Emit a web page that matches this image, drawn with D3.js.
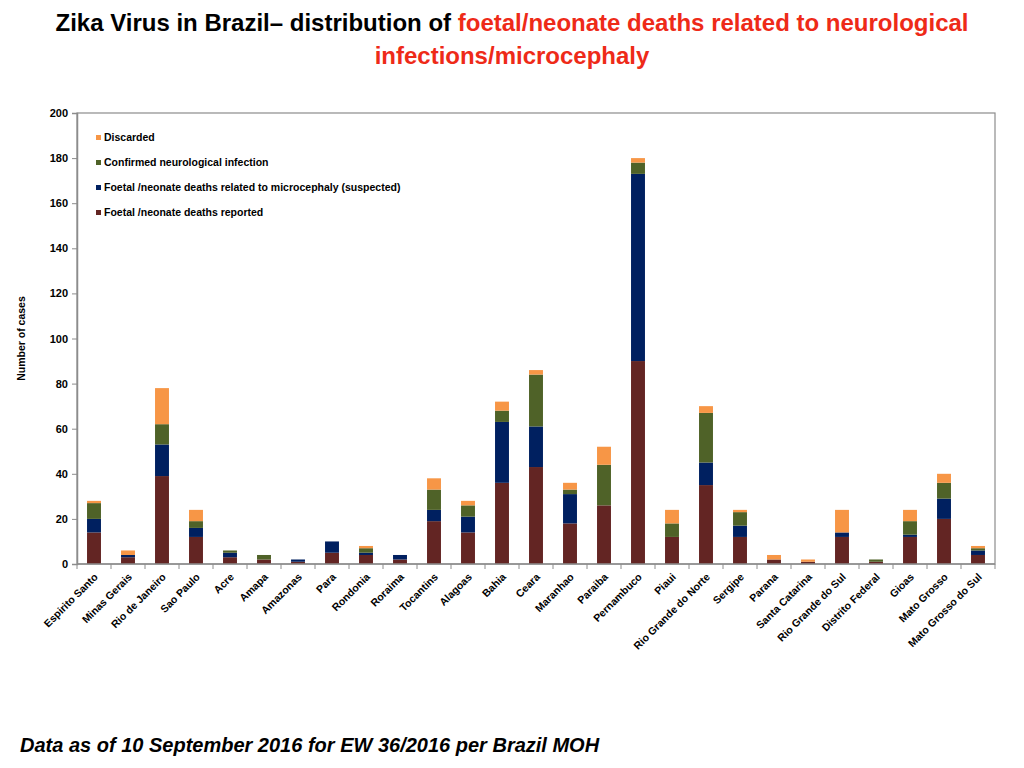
<!DOCTYPE html>
<html>
<head>
<meta charset="utf-8">
<script src="https://cdn.jsdelivr.net/npm/d3@7"></script>
<style>
  body { margin: 0; background: #fff; }
  svg { font-family: "Liberation Sans", Arial, sans-serif; }
</style>
</head>
<body>
<svg id="chart" width="1024" height="768"></svg>
<script>
var states = ["Espirito Santo", "Minas Gerais", "Rio de Janeiro", "Sao Paulo", "Acre", "Amapa",
  "Amazonas", "Para", "Rondonia", "Roraima", "Tocantins", "Alagoas", "Bahia", "Ceara",
  "Maranhao", "Paraiba", "Pernambuco", "Piaui", "Rio Grande do Norte", "Sergipe", "Parana",
  "Santa Catarina", "Rio Grande do Sul", "Distrito Federal", "Gioas", "Mato Grosso",
  "Mato Grosso do Sul"];

var reported  = [14, 3, 39, 12, 3, 2, 1, 5, 4, 2, 19, 14, 36, 43, 18, 26, 90, 12, 35, 12, 2, 1, 12, 1, 12, 20, 4];
var suspected = [6, 1, 14, 4, 2, 0, 1, 5, 1, 2, 5, 7, 27, 18, 13, 0, 83, 0, 10, 5, 0, 0, 2, 0, 1, 9, 2];
var confirmed = [7, 0, 9, 3, 1, 2, 0, 0, 2, 0, 9, 5, 5, 23, 2, 18, 5, 6, 22, 6, 0, 0, 0, 1, 6, 7, 1];
var discarded = [1, 2, 16, 5, 0, 0, 0, 0, 1, 0, 5, 2, 4, 2, 3, 8, 2, 6, 3, 1, 2, 1, 10, 0, 5, 4, 1];

var seriesNames = ["Foetal /neonate deaths reported",
  "Foetal /neonate deaths related to microcephaly (suspected)",
  "Confirmed neurological  infection",
  "Discarded"];
var seriesColors = ["#632523", "#002060", "#4f6228", "#f79646"];
var yTicks = [0, 20, 40, 60, 80, 100, 120, 140, 160, 180, 200];

var svg = d3.select("#chart");
var margin = {top: 113, right: 29, bottom: 204, left: 77};
var width = 1024 - margin.left - margin.right,
    height = 768 - margin.top - margin.bottom;

// title
var title = svg.append("text")
  .attr("x", 512).attr("y", 31)
  .attr("text-anchor", "middle")
  .style("font-size", "24px").style("font-weight", "bold");
title.append("tspan").attr("fill", "#000").text("Zika Virus in Brazil\u2013  distribution of ");
title.append("tspan").attr("fill", "#ee2a18").text("foetal/neonate deaths related to neurological");
svg.append("text")
  .attr("x", 512).attr("y", 64)
  .attr("text-anchor", "middle")
  .attr("fill", "#ee2a18")
  .style("font-size", "24px").style("font-weight", "bold")
  .text("infections/microcephaly");

var table = states.map(function(s, i) {
  return {state: s, r: reported[i], s: suspected[i], c: confirmed[i], d: discarded[i]};
});
var keys = ["r", "s", "c", "d"];
var stacked = d3.stack().keys(keys)(table);

var x = d3.scaleBand().domain(states).range([0, width]).paddingInner(0.59).paddingOuter(0.295);
var y = d3.scaleLinear().domain([0, 200]).range([height, 0]);

var g = svg.append("g").attr("transform", "translate(" + margin.left + "," + margin.top + ")");

// plot frame
g.append("rect")
  .attr("width", width).attr("height", height)
  .attr("fill", "none").attr("stroke", "#8c8c8c").attr("stroke-width", 1.2);

g.selectAll("g.layer")
  .data(stacked)
  .enter().append("g")
  .attr("class", "layer")
  .attr("fill", function(d, i) { return seriesColors[i]; })
  .selectAll("rect")
  .data(function(d) { return d; })
  .enter().append("rect")
  .attr("x", function(d) { return x(d.data.state); })
  .attr("y", function(d) { return y(d[1]); })
  .attr("width", x.bandwidth())
  .attr("height", function(d) { return y(d[0]) - y(d[1]); });

// y axis
var yAxis = g.append("g")
  .call(d3.axisLeft(y).tickValues(yTicks).tickSize(5).tickPadding(4));
yAxis.select(".domain").attr("stroke", "#8c8c8c").attr("stroke-width", 1.5);
yAxis.selectAll(".tick line").attr("stroke", "#8c8c8c");
yAxis.selectAll("text")
  .style("font-size", "11px").style("font-weight", "bold").attr("fill", "#000");

// x axis, ticks between categories
var step = x.step();
var xAxis = g.append("g").attr("transform", "translate(0," + height + ")");
xAxis.append("line")
  .attr("x1", 0).attr("x2", width)
  .attr("stroke", "#8c8c8c").attr("stroke-width", 1.5);
xAxis.selectAll("line.tk")
  .data(d3.range(states.length + 1))
  .enter().append("line")
  .attr("class", "tk")
  .attr("x1", function(i) { return i * step; })
  .attr("x2", function(i) { return i * step; })
  .attr("y1", 0).attr("y2", 5)
  .attr("stroke", "#8c8c8c");
xAxis.selectAll("text")
  .data(states)
  .enter().append("text")
  .attr("transform", function(d) {
    return "translate(" + (x(d) + x.bandwidth() / 2 + 2) + ",11) rotate(-45)";
  })
  .attr("text-anchor", "end")
  .attr("dy", "0.35em")
  .style("font-size", "10.5px").style("font-weight", "bold")
  .text(function(d) { return d; });

// y axis title
svg.append("text")
  .attr("transform", "translate(25," + (margin.top + height / 2) + ") rotate(-90)")
  .attr("text-anchor", "middle")
  .style("font-size", "10.5px").style("font-weight", "bold")
  .text("Number of cases");

// legend, top entry is Discarded
var legendOrder = [3, 2, 1, 0];
var legend = g.selectAll("g.legend")
  .data(legendOrder)
  .enter().append("g")
  .attr("class", "legend")
  .attr("transform", function(d, i) { return "translate(19," + (25 + i * 25) + ")"; });
legend.append("rect")
  .attr("x", 0).attr("y", -3).attr("width", 5).attr("height", 5)
  .attr("fill", function(d) { return seriesColors[d]; });
legend.append("text")
  .attr("x", 8).attr("y", 0).attr("dy", "0.32em")
  .style("font-size", "10.5px").style("font-weight", "bold")
  .text(function(d) { return seriesNames[d]; });

// footer
svg.append("text")
  .attr("x", 20).attr("y", 752)
  .style("font-size", "20px").style("font-weight", "bold").style("font-style", "italic")
  .text("Data as of 10 September 2016 for EW 36/2016 per Brazil MOH");
</script>
</body>
</html>
